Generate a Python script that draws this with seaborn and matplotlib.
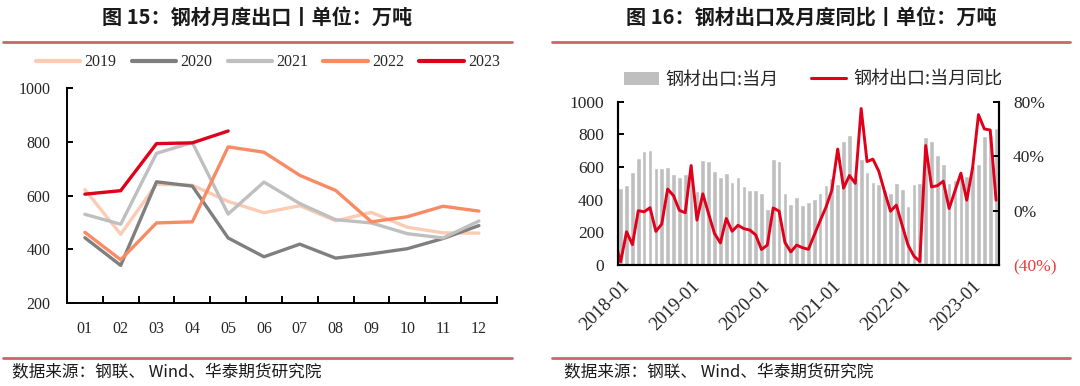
import matplotlib

matplotlib.use("Agg")
import matplotlib.pyplot as plt
from matplotlib.lines import Line2D
from matplotlib.patches import Patch
import numpy as np
import pandas as pd
import seaborn as sns


MONTH_LABELS = ["01", "02", "03", "04", "05", "06", "07", "08", "09", "10", "11", "12"]

# monthly steel exports, 10k tonnes
exports_2018 = [473, 490, 571, 657, 696, 703, 596, 596, 602, 555, 537, 558]
exports_2019 = [622, 456, 642, 638, 578, 536, 562, 506, 537, 482, 461, 460]
exports_2020 = [443, 340, 651, 635, 442, 372, 419, 367, 383, 402, 440, 488]
exports_2021 = [530, 493, 757, 797, 531, 650, 570, 510, 498, 458, 442, 505]
exports_2022 = [463, 361, 498, 502, 781, 761, 675, 619, 502, 521, 560, 542]
exports_2023 = [605, 618, 793, 796, 840]

# year-on-year, %; the Dec-2017 point only shows as the stub at the left edge
yoy_2017_12 = -23
yoy_2018 = [-37.6, -15.6, -25.0, -0.1, -0.9, 2.1, -15.3, -9.9, 15.8, 11.0, 0.2, -1.6]
yoy_2019 = [33.0, -7.0, 12.3, -2.6, -16.9, -23.8, -5.8, -15.2, -10.8, -13.3, -14.3, -17.8]
yoy_2020 = [-28.6, -25.4, 1.9, -0.4, -23.4, -30.4, -25.4, -27.3, -28.5, -18.0, -7.5, 2.5]
yoy_2021 = [15.0, 45.2, 16.5, 25.8, 20.0, 75.0, 36.0, 37.8, 29.0, 13.8, -0.5, 4.0]
yoy_2022 = [-11.0, -25.5, -33.5, -37.4, 47.8, 17.4, 18.3, 21.6, 1.5, 14.5, 27.5, 7.6]
yoy_2023 = [31.5, 70.5, 60.0, 59.2, 7.6]

YEAR_TICK_LABELS = ["2018-01", "2019-01", "2020-01", "2021-01", "2022-01", "2023-01"]
LEFT_YEARS = ["2019", "2020", "2021", "2022", "2023"]
LEFT_COLORS = ["#FBCBB4", "#7F7F7F", "#BFBFBF", "#F88B64", "#E0001B"]
RIGHT_TICKS = [-40, 0, 40, 80]
RIGHT_TICK_LABELS = ["(40%)", "0%", "40%", "80%"]

RED = "#E0001B"
BAR_GREY = "#BFBFBF"
RULE = "#C86868"
CJK = ["Noto Sans CJK SC", "DejaVu Sans"]
SERIF = ["Liberation Serif", "DejaVu Serif"]

sns.set_theme(style="ticks")
plt.rcParams["font.family"] = CJK
plt.rcParams["axes.unicode_minus"] = False

fig = plt.figure(figsize=(10.8, 3.86), dpi=100)
fig.patch.set_facecolor("white")

# ---------------- left: monthly exports by year ----------------
ax1 = fig.add_axes([0.062, 0.215, 0.398, 0.557])
left_series = [exports_2019, exports_2020, exports_2021, exports_2022, exports_2023]
frames = []
for year, vals in zip(LEFT_YEARS, left_series):
    frames.append(pd.DataFrame({"month": np.arange(len(vals)), "value": vals, "year": year}))
left_df = pd.concat(frames, ignore_index=True)

sns.lineplot(
    data=left_df,
    x="month",
    y="value",
    hue="year",
    hue_order=LEFT_YEARS,
    palette=dict(zip(LEFT_YEARS, LEFT_COLORS)),
    linewidth=2.4,
    legend=False,
    ax=ax1,
)
ax1.set_xlim(-0.5, 11.5)
ax1.set_ylim(200, 1000)
ax1.set_yticks([200, 400, 600, 800, 1000])
ax1.set_xticks(range(12))
ax1.set_xticklabels(MONTH_LABELS)
ax1.set_xticks(np.arange(-0.5, 12, 1), minor=True)
ax1.set_xlabel("")
ax1.set_ylabel("")
ax1.tick_params(axis="x", which="major", length=0, pad=13, labelsize=11.5)
ax1.tick_params(axis="x", which="minor", direction="in", length=5, width=1.4, color="black")
ax1.tick_params(axis="y", direction="in", length=4, width=1.4, color="black", pad=12, labelsize=11.5)
for lab in ax1.get_xticklabels() + ax1.get_yticklabels():
    lab.set_family(SERIF)
for side in ("top", "right"):
    ax1.spines[side].set_visible(False)
for side in ("left", "bottom"):
    ax1.spines[side].set_color("black")
    ax1.spines[side].set_linewidth(1.4)

left_handles = [Line2D([], [], color=c, lw=3) for c in LEFT_COLORS]
fig.legend(
    left_handles,
    LEFT_YEARS,
    loc="center",
    bbox_to_anchor=(0.248, 0.839),
    ncol=5,
    frameon=False,
    prop={"family": SERIF, "size": 11.5},
    handlelength=2.8,
    handletextpad=0.25,
    columnspacing=0.95,
)

# ---------------- right: monthly exports and yoy ----------------
ax2 = fig.add_axes([0.572, 0.3135, 0.353, 0.423])
all_exports = exports_2018 + exports_2019 + exports_2020 + exports_2021 + exports_2022 + exports_2023
bar_df = pd.DataFrame({"pos": np.arange(len(all_exports)), "value": all_exports})
sns.barplot(
    data=bar_df,
    x="pos",
    y="value",
    color=BAR_GREY,
    saturation=1,
    width=0.8,
    native_scale=True,
    ax=ax2,
)

all_yoy = [yoy_2017_12] + yoy_2018 + yoy_2019 + yoy_2020 + yoy_2021 + yoy_2022 + yoy_2023
line_df = pd.DataFrame({"pos": np.arange(-1, len(all_yoy) - 1), "yoy": all_yoy})
ax2r = ax2.twinx()
sns.lineplot(data=line_df, x="pos", y="yoy", color=RED, linewidth=2.1, ax=ax2r)

ax2.set_xlim(-0.5, len(all_exports) - 0.5)
ax2r.set_xlim(-0.5, len(all_exports) - 0.5)
ax2.set_ylim(0, 1000)
ax2.set_yticks([0, 200, 400, 600, 800, 1000])
ax2r.set_ylim(-40, 80)
ax2r.set_yticks(RIGHT_TICKS)
ax2r.set_yticklabels(RIGHT_TICK_LABELS)
ax2.set_xticks(np.arange(0, len(all_exports), 12))
ax2.set_xticklabels(YEAR_TICK_LABELS, rotation=45, ha="right", rotation_mode="anchor")
ax2.set_xticks(np.arange(len(all_exports)), minor=True)
for a in (ax2, ax2r):
    a.set_xlabel("")
    a.set_ylabel("")
ax2.tick_params(axis="x", which="major", direction="in", length=5, width=1.4, color="black", pad=9, labelsize=13.5)
ax2.tick_params(axis="x", which="minor", direction="in", length=3, width=1.2, color="black")
ax2.tick_params(axis="y", direction="in", length=4, width=1.4, color="black", pad=10, labelsize=12.5)
ax2r.tick_params(axis="y", direction="in", length=4, width=1.4, color="black", pad=10, labelsize=12.5)
for lab in ax2.get_xticklabels() + ax2.get_yticklabels() + ax2r.get_yticklabels():
    lab.set_family(SERIF)
ax2r.get_yticklabels()[0].set_color("#EE3B3B")
for a in (ax2, ax2r):
    a.spines["top"].set_visible(False)
    for side in ("left", "right", "bottom"):
        a.spines[side].set_color("black")
        a.spines[side].set_linewidth(1.5)
ax2.grid(False)
ax2r.grid(False)

right_handles = [Patch(facecolor=BAR_GREY, edgecolor="none"), Line2D([], [], color=RED, lw=2.2)]
fig.legend(
    right_handles,
    ["钢材出口:当月", "钢材出口:当月同比"],
    loc="center",
    bbox_to_anchor=(0.753, 0.793),
    ncol=2,
    frameon=False,
    prop={"family": CJK, "size": 13},
    handlelength=1.9,
    handleheight=0.75,
    handletextpad=0.4,
    columnspacing=1.8,
)

# ---------------- titles, rules and sources ----------------
fig.text(0.238, 0.953, "图 15：钢材月度出口丨单位：万吨", ha="center", va="center",
         fontsize=14.5, fontweight="bold", color="#1a1a1a")
fig.text(0.751, 0.953, "图 16：钢材出口及月度同比丨单位：万吨", ha="center", va="center",
         fontsize=14.5, fontweight="bold", color="#1a1a1a")
for x0, x1 in ((0.003, 0.474), (0.511, 0.991)):
    for y in (0.891, 0.073):
        fig.add_artist(Line2D([x0, x1], [y, y], color=RULE, lw=2.0, transform=fig.transFigure))
fig.text(0.011, 0.036, "数据来源：钢联、 Wind、华泰期货研究院", ha="left", va="center", fontsize=12, color="#1a1a1a")
fig.text(0.522, 0.036, "数据来源：钢联、 Wind、华泰期货研究院", ha="left", va="center", fontsize=12, color="#1a1a1a")

fig.savefig("out.png", dpi=100, facecolor="white")
